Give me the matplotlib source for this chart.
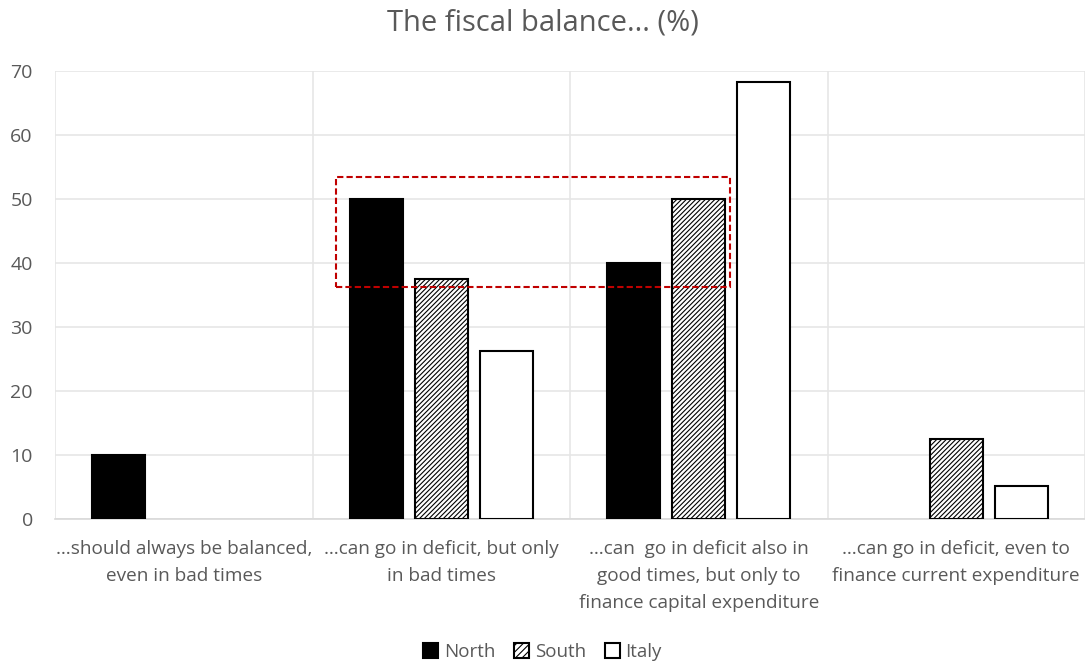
import matplotlib
matplotlib.use("Agg")
import matplotlib.pyplot as plt
import numpy as np
from matplotlib.patches import Rectangle, Patch

categories = ["…should always be balanced,\neven in bad times",
              "…can go in deficit, but only\nin bad times",
              "…can  go in deficit also in\ngood times, but only to\nfinance capital expenditure",
              "…can go in deficit, even to\nfinance current expenditure"]
north = [10, 50, 40, 0]
south = [0, 37.5, 50, 12.5]
italy = [0, 26.3, 68.3, 5.2]
yticks = [0, 10, 20, 30, 40, 50, 60, 70]

plt.rcParams['font.family'] = ['Open Sans', 'DejaVu Sans']
plt.rcParams['hatch.linewidth'] = 0.8
grey = '#595959'

fig = plt.figure(figsize=(10.85, 6.65), dpi=100)
ax = fig.add_axes([55/1085, 1-519/665, 1030/1085, (519-71)/665])

x = np.arange(len(categories))
w = 0.205
step = 0.252
def lw(vals):
    return [1.5 if v > 0 else 0 for v in vals]
ax.bar(x - step, north, w, color='black', edgecolor='black', linewidth=lw(north), zorder=3)
ax.bar(x, south, w, color='white', edgecolor='black', hatch='///////', linewidth=lw(south), zorder=3)
ax.bar(x + step, italy, w, color='white', edgecolor='black', linewidth=lw(italy), zorder=3)

ax.set_xlim(-0.5, len(categories) - 0.5)
ax.set_ylim(0, 70)
ax.set_yticks(yticks)
ax.set_yticklabels([str(v) for v in yticks], color=grey, fontsize=14)
ax.tick_params(axis='y', length=0, pad=16)
ax.set_xticks(x)
ax.set_xticklabels(categories, color=grey, fontsize=13.7, linespacing=1.65)
ax.tick_params(axis='x', length=0, pad=15)

ax.yaxis.grid(True, color='#e6e6e6', linewidth=1.2, zorder=0)
for b in np.arange(-0.5, len(categories), 1.0):
    ax.axvline(b, color='#e6e6e6', linewidth=1.2, zorder=0)
for s in ['top', 'right', 'left']:
    ax.spines[s].set_visible(False)
ax.spines['bottom'].set_color('#d9d9d9')
ax.spines['bottom'].set_linewidth(1.2)

# highlight box
rect = Rectangle((0.59, 36.2), 2.12 - 0.59, 53.4 - 36.2, fill=False,
                 edgecolor='#c00000', linestyle=(0, (3, 1.5)), linewidth=1.5, zorder=4)
ax.add_patch(rect)

fig.suptitle("The fiscal balance... (%)", y=1-23/665, va='center', color=grey, fontsize=21)

handles = [Patch(facecolor='black', edgecolor='black', linewidth=1.5, label='North'),
           Patch(facecolor='white', edgecolor='black', hatch='/////', linewidth=1.5, label='South'),
           Patch(facecolor='white', edgecolor='black', linewidth=1.5, label='Italy')]
fig.legend(handles=handles, loc='center', bbox_to_anchor=(0.5, 1-652/665), ncol=3, frameon=False,
           fontsize=13.5, labelcolor=grey, handlelength=0.8, handleheight=0.8,
           handletextpad=0.3, columnspacing=1.0)

fig.savefig("out.png", dpi=100)
